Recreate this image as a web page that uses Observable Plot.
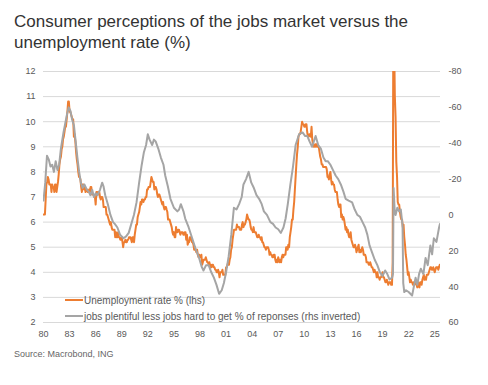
<!DOCTYPE html>
<html>
<head>
<meta charset="utf-8">
<script src="https://cdn.jsdelivr.net/npm/d3@7"></script>
<script src="https://cdn.jsdelivr.net/npm/@observablehq/plot@0.6"></script>
<style>
  html, body { margin: 0; padding: 0; background: #fff; }
  #wrap { position: relative; width: 488px; height: 385px; overflow: hidden; background: #fff; }
  #title { position: absolute; left: 14px; top: 11px; width: 420px; font-family: "Liberation Sans", Arial, sans-serif; font-size: 17px; line-height: 21px; color: #333; }
  #chart { position: absolute; left: 0; top: 58px; }
  #source { position: absolute; left: 14px; top: 348px; font-family: "Liberation Sans", Arial, sans-serif; font-size: 9px; line-height: 12px; color: #666; }
</style>
</head>
<body>
<div id="wrap">
  <div id="title">Consumer perceptions of the jobs market versus the unemployment rate (%)</div>
  <div id="chart"></div>
  <div id="source">Source: Macrobond, ING</div>
</div>
<script>
// ---- Data ----
const leftTicks = [2, 3, 4, 5, 6, 7, 8, 9, 10, 11, 12];
const rightTicks = [-80, -60, -40, -20, 0, 20, 40, 60];
const xTickYears = [1980, 1983, 1986, 1989, 1992, 1995, 1998, 2001, 2004, 2007, 2010, 2013, 2016, 2019, 2022, 2025];
const legendLabels = ["Unemployment rate % (lhs)", "jobs plentiful less jobs hard to get % of reponses (rhs inverted)"];

// Unemployment rate (%), monthly from Jan 1980
const unempStartYear = 1980;
const unemployment = [
  6.3,6.3,6.3,6.9,7.5,7.6,7.8,7.7,7.5,7.5,7.5,7.2,
  7.5,7.4,7.4,7.2,7.5,7.5,7.2,7.4,7.6,7.9,8.3,8.5,
  8.6,8.9,9.0,9.3,9.4,9.6,9.8,9.8,10.1,10.4,10.8,10.8,
  10.4,10.4,10.3,10.2,10.1,10.1,9.4,9.5,9.2,8.8,8.5,8.3,
  8.0,7.8,7.8,7.7,7.4,7.2,7.5,7.5,7.3,7.4,7.2,7.3,
  7.3,7.2,7.2,7.3,7.2,7.4,7.4,7.1,7.1,7.1,7.0,7.0,
  6.7,7.2,7.2,7.1,7.2,7.2,7.0,6.9,7.0,7.0,6.9,6.6,
  6.6,6.6,6.6,6.3,6.3,6.2,6.1,6.0,5.9,6.0,5.8,5.7,
  5.7,5.7,5.7,5.4,5.6,5.4,5.4,5.6,5.4,5.4,5.3,5.3,
  5.4,5.2,5.0,5.2,5.2,5.3,5.2,5.2,5.3,5.3,5.4,5.4,
  5.4,5.3,5.2,5.4,5.4,5.2,5.5,5.7,5.9,5.9,6.2,6.3,
  6.4,6.6,6.8,6.7,6.9,6.9,6.8,6.9,6.9,7.0,7.0,7.3,
  7.3,7.4,7.4,7.4,7.6,7.8,7.7,7.6,7.6,7.3,7.4,7.4,
  7.3,7.1,7.0,7.1,7.1,7.0,6.9,6.8,6.7,6.8,6.6,6.5,
  6.6,6.6,6.5,6.4,6.1,6.1,6.1,6.0,5.9,5.8,5.6,5.5,
  5.6,5.4,5.4,5.8,5.6,5.6,5.7,5.7,5.6,5.5,5.6,5.6,
  5.6,5.5,5.5,5.6,5.6,5.3,5.5,5.1,5.2,5.2,5.4,5.4,
  5.3,5.2,5.2,5.1,4.9,5.0,4.9,4.8,4.9,4.7,4.6,4.7,
  4.6,4.6,4.7,4.3,4.4,4.5,4.5,4.5,4.6,4.5,4.4,4.4,
  4.3,4.4,4.2,4.3,4.2,4.3,4.3,4.2,4.2,4.1,4.1,4.0,
  4.0,4.1,4.0,3.8,4.0,4.0,4.0,4.1,3.9,3.9,3.9,3.9,
  4.2,4.2,4.3,4.4,4.3,4.5,4.6,4.9,5.0,5.3,5.5,5.7,
  5.7,5.7,5.7,5.9,5.8,5.8,5.8,5.7,5.7,5.7,5.9,6.0,
  5.8,5.9,5.9,6.0,6.1,6.3,6.2,6.1,6.1,6.0,5.8,5.7,
  5.7,5.6,5.8,5.6,5.6,5.6,5.5,5.4,5.4,5.5,5.4,5.4,
  5.3,5.4,5.2,5.2,5.1,5.0,5.0,4.9,5.0,5.0,5.0,4.9,
  4.7,4.8,4.7,4.7,4.6,4.6,4.7,4.7,4.5,4.4,4.5,4.4,
  4.6,4.5,4.4,4.5,4.4,4.6,4.7,4.6,4.7,4.7,4.7,5.0,
  5.0,4.9,5.1,5.0,5.4,5.6,5.8,6.1,6.1,6.5,6.8,7.3,
  7.8,8.3,8.7,9.0,9.4,9.5,9.5,9.6,9.8,10.0,9.9,9.9,
  9.8,9.8,9.9,9.9,9.6,9.4,9.4,9.5,9.5,9.4,9.8,9.3,
  9.1,9.0,9.0,9.1,9.0,9.1,9.0,9.0,9.0,8.8,8.6,8.5,
  8.3,8.3,8.2,8.2,8.2,8.2,8.2,8.1,7.8,7.8,7.7,7.9,
  8.0,7.7,7.5,7.6,7.5,7.5,7.3,7.2,7.2,7.2,6.9,6.7,
  6.6,6.7,6.7,6.2,6.3,6.1,6.2,6.1,5.9,5.7,5.8,5.6,
  5.7,5.5,5.4,5.4,5.6,5.3,5.2,5.1,5.0,5.0,5.1,5.0,
  4.8,4.9,5.0,5.1,4.8,4.9,4.8,4.9,5.0,4.9,4.7,4.7,
  4.7,4.6,4.4,4.4,4.4,4.3,4.3,4.4,4.3,4.2,4.2,4.1,
  4.0,4.1,4.0,4.0,3.8,4.0,3.8,3.8,3.7,3.8,3.8,3.9,
  4.0,3.8,3.8,3.7,3.6,3.6,3.7,3.6,3.5,3.6,3.6,3.6,
  3.5,3.5,4.4,14.8,13.2,11.0,10.2,8.4,7.8,6.8,6.7,6.7,
  6.4,6.2,6.1,6.1,5.8,5.9,5.4,5.1,4.7,4.5,4.2,3.9,
  4.0,3.8,3.6,3.7,3.6,3.6,3.5,3.6,3.5,3.6,3.6,3.5,
  3.4,3.6,3.5,3.4,3.6,3.6,3.5,3.7,3.8,3.9,3.7,3.8,
  3.7,3.9,3.9,3.9,4.0,4.1,4.2,4.2,4.1,4.1,4.2,4.1,
  4.0,4.1,4.2,4.2,4.2,4.1,4.2,4.3
];

// Labour differential: jobs plentiful less jobs hard to get (% of responses), rhs inverted
const diffDates = [
  1980.0,1980.2,1980.4,1980.6,1980.8,1981.0,1981.2,1981.4,1981.6,1981.8,
  1982.0,1982.3,1982.5,1982.7,1982.9,1983.1,1983.3,1983.5,1983.7,1983.9,
  1984.1,1984.3,1984.5,1984.7,1985.0,1985.2,1985.4,1985.6,1985.8,1986.0,
  1986.2,1986.5,1986.75,1986.9,1987.1,1987.4,1987.7,1988.0,1988.2,1988.5,
  1988.8,1989.0,1989.2,1989.5,1989.8,1990.1,1990.4,1990.7,1991.0,1991.3,
  1991.55,1991.8,1992.0,1992.2,1992.5,1992.7,1992.9,1993.2,1993.5,1993.8,
  1994.0,1994.3,1994.6,1995.0,1995.4,1995.6,1995.8,1996.1,1996.3,1996.7,
  1997.1,1997.5,1997.9,1998.2,1998.4,1998.7,1999.0,1999.3,1999.6,1999.9,
  2000.2,2000.5,2000.75,2001.0,2001.3,2001.6,2001.9,2002.2,2002.5,2002.8,
  2003.0,2003.3,2003.6,2003.9,2004.2,2004.5,2004.8,2005.1,2005.35,2005.7,
  2006.1,2006.4,2006.7,2007.0,2007.3,2007.6,2007.85,2008.1,2008.4,2008.7,
  2009.0,2009.4,2009.8,2010.1,2010.35,2010.6,2010.9,2011.3,2011.6,2011.9,
  2012.2,2012.45,2012.7,2013.0,2013.3,2013.6,2013.9,2014.2,2014.5,2014.75,
  2015.1,2015.5,2015.8,2016.1,2016.4,2016.7,2017.0,2017.25,2017.5,2017.8,
  2018.1,2018.4,2018.7,2019.0,2019.3,2019.55,2019.8,2020.1,2020.2,2020.27,
  2020.4,2020.5,2020.7,2020.9,2021.1,2021.3,2021.38,2021.5,2021.7,2022.0,
  2022.2,2022.4,2022.6,2022.8,2023.0,2023.2,2023.4,2023.7,2023.95,2024.2,
  2024.5,2024.7,2024.9,2025.2,2025.5,2025.6
];
const labourDiff = [
  -8,-18,-33,-31,-27,-28,-24,-30,-25,-28,
  -37,-46,-51,-56,-60,-58,-53,-50,-41,-32,
  -24,-18,-15,-17,-14,-13,-11,-14,-10,-12,
  -11,-14,-18,-16,-11,-6,0,4,5,7,
  11,12,13,12,10,5,0,-7,-18,-28,
  -35,-39,-45,-42,-39,-42,-41,-37,-32,-28,
  -22,-16,-9,-4,-2,-3,-6,-2,2,7,
  13,19,24,29,31,28,28,32,35,39,
  44,42,38,32,23,11,-4,-3,-6,-10,
  -17,-20,-24,-18,-15,-11,-9,-6,-2,0,
  4,5,7,8,10,7,2,-6,-17,-27,
  -39,-45,-46,-44,-44,-41,-38,-44,-39,-37,
  -32,-30,-30,-28,-25,-22,-20,-17,-13,-9,
  -8,-7,-3,0,1,4,7,11,17,21,
  25,28,32,34,31,33,36,35,33,-15,
  -2,0,-4,-2,-3,6,38,43,42,43,
  44,45,40,35,39,33,30,33,24,28,
  17,22,13,15,7,5
];

// ---- Helpers ----
const rhsToLhs = r => 12 - (r + 80) / 14;   // rhs inverted: -80 at top (12), 60 at bottom (2)
const lhsToRhs = l => Math.round((12 - l) * 14 - 80);
const decToDate = t => { const y = Math.floor(t); const s = Date.UTC(y, 0, 1), e = Date.UTC(y + 1, 0, 1); return new Date(s + (t - y) * (e - s)); };

const unempData = unemployment.map((v, i) => ({date: new Date(Date.UTC(unempStartYear, i, 1)), value: v}));
const diffData = diffDates.map((t, i) => ({date: decToDate(t), value: rhsToLhs(labourDiff[i])}));
const xTicks = xTickYears.map(y => new Date(Date.UTC(y, 0, 1)));

const ORANGE = "#ed7d31", GREY = "#a5a5a5";

const plot = Plot.plot({
  width: 488,
  height: 285,
  marginLeft: 43,
  marginRight: 48,
  marginTop: 13,
  marginBottom: 21,
  style: {fontFamily: "'Liberation Sans', Arial, sans-serif", fontSize: "9px", color: "#595959", background: "transparent"},
  x: {type: "utc", domain: [new Date(Date.UTC(1980, 0, 1)), new Date(Date.UTC(2025, 8, 1))]},
  y: {domain: [2, 12]},
  marks: [
    Plot.ruleY(leftTicks, {stroke: "#d9d9d9", strokeWidth: 1}),
    Plot.axisY(leftTicks, {anchor: "left", tickSize: 0, tickPadding: 8, label: null, tickFormat: d => String(d)}),
    Plot.axisY(rightTicks.map(rhsToLhs), {anchor: "right", tickSize: 0, tickPadding: 8, label: null, tickFormat: d => String(lhsToRhs(d))}),
    Plot.axisX(xTicks, {tickSize: 0, tickPadding: 8, label: null, tickFormat: d => String(d.getUTCFullYear() % 100).padStart(2, "0")}),
    Plot.line(unempData, {x: "date", y: "value", stroke: ORANGE, strokeWidth: 2, clip: true}),
    Plot.line(diffData, {x: "date", y: "value", stroke: GREY, strokeWidth: 2, clip: true})
  ]
});

// Legend inside the plot, lower-left
const svg = d3.select(plot);
const lg = svg.append("g")
  .attr("font-family", "'Liberation Sans', Arial, sans-serif")
  .attr("font-size", 10)
  .attr("fill", "#595959")
  .attr("text-anchor", "start");
[[ORANGE, legendLabels[0]], [GREY, legendLabels[1]]].forEach(([c, t], i) => {
  const yy = 242 + i * 16;
  lg.append("line").attr("x1", 65).attr("x2", 83).attr("y1", yy).attr("y2", yy).attr("stroke", c).attr("stroke-width", 2);
  lg.append("text").attr("x", 84).attr("y", yy).attr("dy", "0.35em").attr("text-anchor", "start").text(t);
});

document.getElementById("chart").appendChild(plot);
</script>
</body>
</html>
